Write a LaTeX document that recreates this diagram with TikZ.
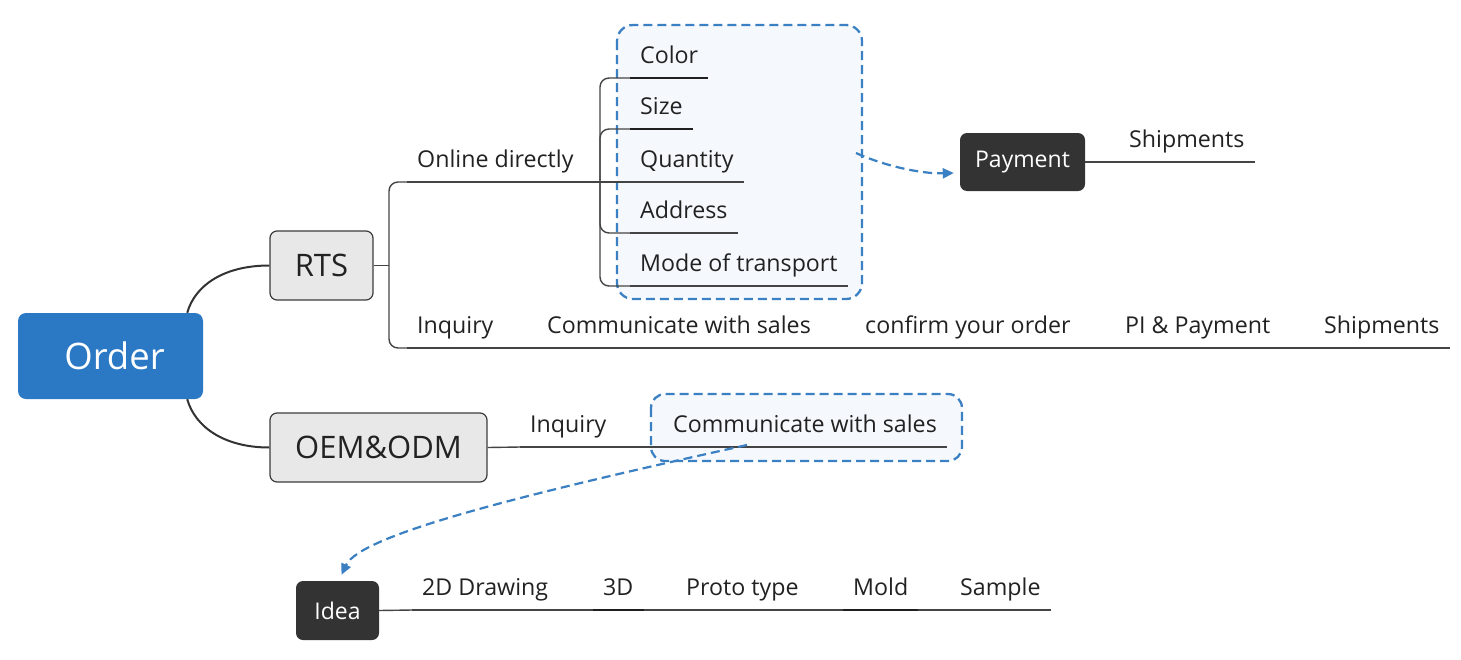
\documentclass[tikz,border=0pt]{standalone}
\usepackage{fontspec}
\setmainfont{Open Sans}
\usetikzlibrary{arrows.meta,calc,fit}
\definecolor{obl}{HTML}{2B78C4}
\definecolor{dbl}{HTML}{3A80C2}
\definecolor{bfill}{HTML}{F5F9FD}
\definecolor{dark}{HTML}{333333}
\definecolor{gfill}{HTML}{E8E8E8}
\definecolor{gline}{HTML}{3C3C3C}
\definecolor{txt}{HTML}{222222}
\definecolor{ln}{HTML}{444444}
\tikzset{
  lbl/.style={font=\fontsize{23.2}{27}\selectfont, text=txt, inner xsep=10pt, inner ysep=0pt,
              text height=16pt, text depth=14pt, anchor=south west},
  conn/.style={draw=ln, line width=1.4pt},
  uline/.style={draw=ln, line width=1.4pt},
  tline/.style={draw=black!88, line width=2.3pt},
  graybox/.style={draw=gline, fill=gfill, line width=1.2pt, rounded corners=7pt, text=txt,
                  font=\fontsize{31}{35}\selectfont},
  darkbox/.style={fill=dark, rounded corners=7pt, text=white, font=\fontsize{23}{27}\selectfont},
  dbox/.style={draw=dbl, fill=bfill, line width=2.3pt, dash pattern=on 9pt off 5pt},
  darr/.style={draw=dbl, line width=2.2pt, dash pattern=on 9pt off 5pt,
               -{Triangle[length=11pt,width=10pt]}},
}
\begin{document}
\begin{tikzpicture}[x=1pt,y=-1pt]
\useasboundingbox[fill=white] (0,0) rectangle (1461,659);

% dashed highlight boxes
\draw[dbox, rounded corners=16pt] (617,25) rectangle (862,299);
\coordinate (box1) at (862,162);
\draw[dbox, rounded corners=14pt] (651,394) rectangle (962,461);

% main nodes
\node[fill=obl, rounded corners=8pt, minimum width=185pt, minimum height=86pt, text=white,
      font=\fontsize{36.5}{40}\selectfont] (order) at (110.5,356) {\hspace*{8pt}Order};
\node[graybox, minimum width=103pt, minimum height=69pt] (rts) at (321.5,265.5) {RTS};
\node[graybox, minimum width=217pt, minimum height=69pt] (oem) at (378.5,447.5) {OEM\&ODM};
\node[darkbox, minimum width=125pt, minimum height=58pt] (pay) at (1022.5,162) {Payment};
\node[darkbox, minimum width=83pt, minimum height=59pt] (idea) at (337.5,610.5) {Idea};

% labels
\node[lbl] (online) at (407,182) {Online directly};
\node[lbl] (color) at (630,78) {Color};
\node[lbl] (size) at (630,129) {Size};
\node[lbl] (qty) at (630,182) {Quantity};
\node[lbl] (addr) at (630,233) {Address};
\node[lbl] (mode) at (630,286) {Mode of transport};
\node[lbl] (ship1) at (1119,162) {Shipments};

\node[lbl] (inq1) at (407,348) {Inquiry};
\node[lbl] (comm1) at (537,348) {Communicate with sales};
\node[lbl] (conf) at (855,348) {confirm your order};
\node[lbl] (pi) at (1115,348) {PI \& Payment};
\node[lbl] (ship2) at (1314,348) {Shipments};

\node[lbl] (inq2) at (520,447) {Inquiry};
\node[lbl] (comm2) at (663,447) {Communicate with sales};

\node[lbl] (d2) at (412,610) {2D Drawing};
\node[lbl] (d3) at (593,610) {3D};
\node[lbl] (proto) at (676,610) {Proto type};
\node[lbl] (mold) at (843,610) {Mold};
\node[lbl] (sample) at (950,610) {Sample};

% underlines
\foreach \n in {online,qty,addr,mode,ship1,inq1,comm1,conf,pi,ship2,inq2,comm2,d2,proto,sample}
  \draw[uline] (\n.south west) -- (\n.south east);
\foreach \n in {color,size,d3,mold}
  \draw[tline] (\n.south west) -- (\n.south east);

% Order to branches
\coordinate (otop) at ($(order.north east)+(-16,0)$);
\coordinate (obot) at ($(order.south east)+(-16,0)$);
\draw[draw=black!80, line width=2pt] (otop) .. controls ($(otop)+(8,-28)$) and ($(rts.west)+(-45,0)$) .. (rts.west);
\draw[draw=black!80, line width=2pt] (obot) .. controls ($(obot)+(8,28)$) and ($(oem.west)+(-45,0)$) .. (oem.west);

% RTS split
\coordinate (rtsj) at (389,265.5);
\draw[conn] (rts.east) -- (rtsj);
\draw[conn, rounded corners=9pt] (online.south west) -| (rtsj) |- (inq1.south west);
\draw[conn] (online.south east) -- (qty.south west);

% attribute branch
\coordinate (brj) at (600,182);
\foreach \n in {color,size,addr,mode}
  \draw[conn, rounded corners=9pt] (\n.south west) -| (brj);

% chains
\draw[conn] (pay.east) -- (ship1.south west);
\draw[conn] (inq1.south east) -- (comm1.south west);
\draw[conn] (comm1.south east) -- (conf.south west);
\draw[conn] (conf.south east) -- (pi.south west);
\draw[conn] (pi.south east) -- (ship2.south west);
\draw[conn] (oem.east) -- (inq2.south west);
\draw[conn] (inq2.south east) -- (comm2.south west);
\draw[conn] (idea.east) -- (d2.south west);
\draw[conn] (d2.south east) -- (d3.south west);
\draw[conn] (d3.south east) -- (proto.south west);
\draw[conn] (proto.south east) -- (mold.south west);
\draw[conn] (mold.south east) -- (sample.south west);

% dashed arrows
\coordinate (a1s) at ($(box1)+(-6,-9)$);
\coordinate (a1e) at ($(pay.west)+(-6,11)$);
\draw[darr] (a1s) .. controls (882,165) and (920,174) .. (a1e);
\coordinate (a2s) at (747,445);
\coordinate (a2e) at ($(idea.north)+(4,-6)$);
\draw[darr] (a2s) .. controls (520,495) and (360,535) .. (a2e);
\end{tikzpicture}
\end{document}
